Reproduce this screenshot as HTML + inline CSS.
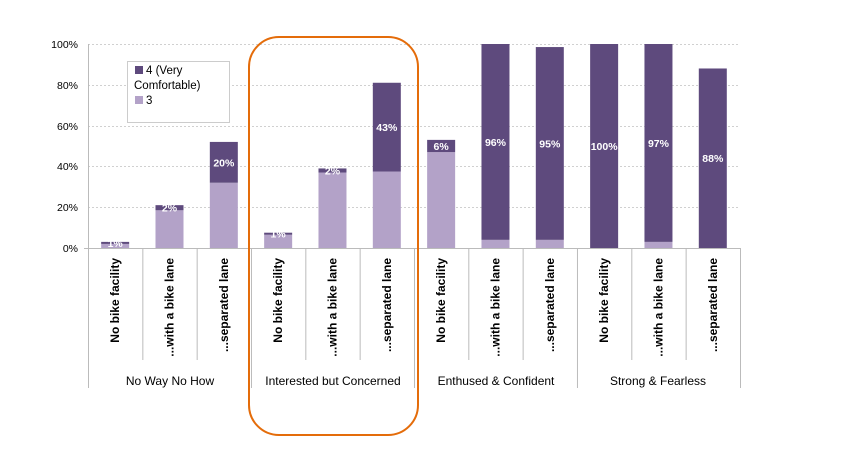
<!DOCTYPE html>
<html><head><meta charset="utf-8"><style>
html,body{margin:0;padding:0;background:#fff;}
svg{display:block;font-family:"Liberation Sans",sans-serif;}
</style></head><body>
<svg width="843" height="453" viewBox="0 0 843 453">
<g stroke="#d0d0d0" stroke-width="1" stroke-dasharray="2,2">
<line x1="88" y1="44.5" x2="740" y2="44.5"/>
<line x1="88" y1="85.5" x2="740" y2="85.5"/>
<line x1="88" y1="126.5" x2="740" y2="126.5"/>
<line x1="88" y1="166.5" x2="740" y2="166.5"/>
<line x1="88" y1="207.5" x2="740" y2="207.5"/>
</g>
<g font-size="10.5" fill="#000" text-anchor="end">
<text x="78" y="48">100%</text>
<text x="78" y="89">80%</text>
<text x="78" y="130">60%</text>
<text x="78" y="170">40%</text>
<text x="78" y="211">20%</text>
<text x="78" y="252">0%</text>
</g>
<line x1="88.5" y1="44" x2="88.5" y2="248" stroke="#bbb"/>
<g id="bars"></g>
<line x1="84" y1="248.5" x2="740" y2="248.5" stroke="#bbb"/>
<g stroke="#bbb" id="ticks"></g>
<g id="labels" font-size="12" font-weight="bold" fill="#000"></g>
<g font-size="12" fill="#000" text-anchor="middle">
<text x="170" y="385">No Way No How</text>
<text x="333" y="385">Interested but Concerned</text>
<text x="496" y="385">Enthused &amp; Confident</text>
<text x="658" y="385">Strong &amp; Fearless</text>
</g>
<rect x="127.5" y="61.5" width="102" height="61" fill="#fff" stroke="#ccc"/>
<rect x="135" y="66" width="8" height="8" fill="#5e4a7d"/>
<text x="146" y="74" font-size="11.5">4 (Very</text>
<text x="134" y="89" font-size="11.5">Comfortable)</text>
<rect x="135" y="96" width="8" height="8" fill="#b3a2c8"/>
<text x="146" y="104" font-size="11.5">3</text>
<rect x="249" y="37" width="169" height="398" rx="30" ry="30" fill="none" stroke="#e46c0a" stroke-width="2"/>
<script>
var light=[2,18.5,32,6.5,37,37.5,47,4,4,0,3,0];
var total=[3,21,52,7.5,39,81,53,100,98.5,100,100,88];
var lab=["1%","2%","20%","1%","2%","43%","6%","96%","95%","100%","97%","88%"];
var names=["No bike facility","...with a bike lane","...separated lane"];
var ns="http://www.w3.org/2000/svg";
function el(t,a,p){var e=document.createElementNS(ns,t);for(var k in a)e.setAttribute(k,a[k]);p.appendChild(e);return e;}
var B=document.getElementById("bars"),T=document.getElementById("ticks"),L=document.getElementById("labels");
var x0=88,w=54.33,y0=248,s=2.04;
for(var i=0;i<12;i++){
 var cx=x0+w*i+w/2,bx=cx-14;
 var yl=y0-light[i]*s,yt=y0-total[i]*s;
 el("rect",{x:bx,y:yl,width:28,height:y0-yl,fill:"#b3a2c8"},B);
 el("rect",{x:bx,y:yt,width:28,height:yl-yt,fill:"#5e4a7d"},B);
 var ly=(yl+yt)/2+4;
 var t=el("text",{x:cx,y:ly,"font-size":"10.5","font-weight":"bold",fill:"#fff","text-anchor":"middle"},B);t.textContent=lab[i];
 var tx=x0+w*i;
 el("line",{x1:tx+0.5,y1:248,x2:tx+0.5,y2:(i%3==0)?388:360},T);
 var tt=el("text",{x:0,y:0,"text-anchor":"end",transform:"translate("+(cx+4)+",258) rotate(-90)"},L);tt.textContent=names[i%3];
}
el("line",{x1:740.5,y1:248,x2:740.5,y2:388},T);
</script>
</svg>
</body></html>
